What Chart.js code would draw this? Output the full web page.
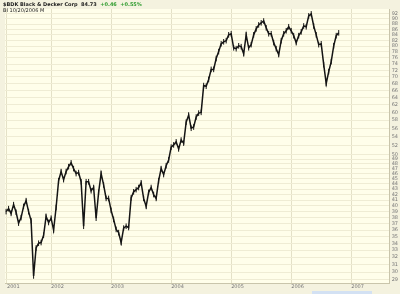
<!DOCTYPE html>
<html><head><meta charset="utf-8">
<script src="https://cdn.jsdelivr.net/npm/chart.js@4.4.0/dist/chart.umd.min.js"></script>
<style>
html,body{margin:0;padding:0;background:#F4F2DF;}
#wrap{position:relative;width:400px;height:294px;overflow:hidden;background:#F4F2DF;}
canvas{position:absolute;left:0;top:0;}
.hd{position:absolute;left:3px;font:bold 5px "DejaVu Sans",sans-serif;color:#222;white-space:nowrap;z-index:2;}
#sb{position:absolute;left:312px;top:291px;width:60px;height:3px;background:#D3E1F3;}
</style></head><body>
<div id="wrap"><canvas id="c" width="400" height="294"></canvas>
<div class="hd" style="top:1px">$BDK Black &amp; Decker Corp&nbsp; 84.73&nbsp; <span style="color:#2E9B2E">+0.46&nbsp; +0.55%</span></div>
<div class="hd" style="top:7px;font-weight:normal">BI 10/20/2006 M</div>
<div id="sb"></div>
</div>
<script>
// half-monthly closes, Apr 2001 .. Oct 2006
const startYear = 2001.25;
const stepYears = 1 / 24;
const closes = [
  39.0,39.5,38.7,40.2,38.9,37.1,38.0,39.9,40.9,39.0,37.5,29.5,33.3,34.0,34.1,35.2,
  38.2,37.2,37.9,36.0,39.7,44.6,46.4,44.8,46.4,47.4,48.2,47.0,46.0,46.2,44.4,36.6,
  44.4,44.4,42.7,43.3,37.9,42.4,46.0,43.8,41.3,41.3,39.2,37.7,36.1,35.6,34.1,36.3,
  36.6,36.4,41.4,42.5,42.9,43.3,44.2,41.3,39.9,42.4,43.3,42.0,41.3,44.6,47.0,45.8,
  47.6,48.8,51.6,52.1,52.8,51.2,53.2,52.5,57.5,59.3,56.0,56.3,58.8,59.8,60.0,67.4,
  67.2,69.2,72.3,72.3,75.8,78.1,80.8,81.5,81.9,84.0,84.4,79.4,79.1,80.1,79.8,77.4,
  84.0,79.4,80.5,84.0,86.2,87.7,88.5,89.2,86.6,84.4,84.4,81.2,79.1,77.1,81.9,84.4,
  85.5,87.0,85.5,83.7,81.2,83.7,85.1,87.3,87.0,91.2,92.0,87.3,84.0,80.5,80.8,73.8,
  68.0,71.6,74.8,80.1,83.7,84.73
];
const yearTicks = [2001.265, 2002, 2003, 2004, 2005, 2006, 2007];
const yearLabels = ['2001', '2002', '2003', '2004', '2005', '2006', '2007'];
const priceTicks = [29,30,31,32,33,34,35,36,37,38,39,40,41,42,43,44,45,46,47,48,49,
  50,52,54,56,58,60,62,64,66,68,70,72,74,76,78,80,82,84,86,88,90,92];

const points = closes.map((c, i) => ({ x: startYear + i * stepYears, y: c }));

const bgPlugin = {
  id: 'bg',
  beforeDraw(chart) {
    const { ctx, chartArea: a } = chart;
    ctx.save();
    ctx.fillStyle = '#FFFEEA';
    ctx.fillRect(a.left, a.top, a.right - a.left, a.bottom - a.top);
    ctx.restore();
  }
};

new Chart(document.getElementById('c'), {
  type: 'line',
  data: {
    datasets: [{
      data: points,
      borderColor: '#151515',
      borderWidth: 1.5,
      pointStyle: 'line',
      pointRotation: 90,
      pointRadius: 2.8,
      pointBorderWidth: 1,
      pointBorderColor: '#151515',
      tension: 0
    }]
  },
  options: {
    responsive: false,
    devicePixelRatio: 1,
    animation: false,
    layout: { padding: { top: 9, right: 0, bottom: 3, left: 0 } },
    plugins: { legend: { display: false }, tooltip: { enabled: false } },
    scales: {
      x: {
        type: 'linear',
        min: 2001.232,
        max: 2007.64,
        afterBuildTicks: s => { s.ticks = yearTicks.map(v => ({ value: v })); },
        ticks: {
          autoSkip: false, maxRotation: 0, align: 'start', padding: 1,
          font: { size: 5, family: 'DejaVu Sans' }, color: '#777',
          callback: (v) => {
            let k = 0, d = 1e9;
            yearTicks.forEach((t, i) => { if (Math.abs(t - v) < d) { d = Math.abs(t - v); k = i; } });
            return yearLabels[k];
          }
        },
        grid: { color: '#E4E1C7', drawTicks: false },
        border: { color: '#C9C5AB' }
      },
      y: {
        type: 'logarithmic',
        position: 'right',
        min: 28.61,
        max: 93.97,
        afterBuildTicks: s => { s.ticks = priceTicks.map(v => ({ value: v })); },
        ticks: {
          autoSkip: false, padding: 2,
          font: { size: 5, family: 'DejaVu Sans' }, color: '#777',
          callback: v => String(v)
        },
        grid: { color: '#EFECD4', drawTicks: false },
        border: { color: '#C9C5AB' }
      }
    }
  },
  plugins: [bgPlugin]
});
</script>
</body></html>
